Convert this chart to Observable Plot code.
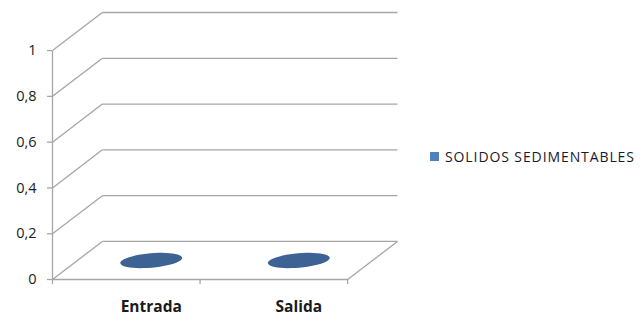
<!DOCTYPE html>
<html>
<head>
<meta charset="utf-8">
<script src="https://cdn.jsdelivr.net/npm/d3@7"></script>
<script src="https://cdn.jsdelivr.net/npm/@observablehq/plot@0.6"></script>
<style>
  html, body { margin: 0; padding: 0; background: #fff; }
  #wrap { position: relative; width: 642px; height: 322px; font-family: "Open Sans", Lato, sans-serif; }
  #legend { position: absolute; left: 430px; top: 147px; display: flex; align-items: center; font-size: 14px; letter-spacing: 0.9px; color: #1a1a2a; white-space: nowrap; }
  #legend .sw { width: 9px; height: 9px; background: #4F81BD; margin-right: 6px; }
</style>
</head>
<body>
<div id="wrap"><div id="legend"></div></div>
<script>
// ---- data ----
const categories = ["Entrada", "Salida"];
const seriesName = "SOLIDOS SEDIMENTABLES";
const values = [0, 0];
const yTicks = [0, 0.2, 0.4, 0.6, 0.8, 1];

// ---- layout (3D depth expressed in scale units) ----
const n = categories.length;
const dX = 50 / 148;   // depth offset, in category units
const dY = 38 / 228.5; // depth offset, in value units
const rows = categories.map((c, i) => ({category: c, value: values[i], i}));

const gridColor = "#A6A6A6";
const barColor = "#3C6394";

const ellipse = {
  draw(context) {
    const rx = 31, ry = 7.2, a = -5 * Math.PI / 180;
    const N = 48;
    for (let k = 0; k <= N; k++) {
      const t = (k / N) * 2 * Math.PI;
      const ex = rx * Math.cos(t), ey = ry * Math.sin(t);
      const px = ex * Math.cos(a) - ey * Math.sin(a);
      const py = ex * Math.sin(a) + ey * Math.cos(a);
      if (k === 0) context.moveTo(px, py); else context.lineTo(px, py);
    }
    context.closePath();
  }
};

const chart = Plot.plot({
  width: 642,
  height: 322,
  marginLeft: 52,
  marginRight: 245,
  marginTop: 12,
  marginBottom: 43,
  style: {fontFamily: "'Open Sans', Lato, sans-serif", background: "transparent"},
  x: {type: "linear", domain: [0, n + dX], axis: null},
  y: {domain: [0, 1 + dY], axis: null},
  marks: [
    // back wall gridlines
    Plot.link(yTicks, {x1: () => dX, y1: d => d + dY, x2: () => n + dX, y2: d => d + dY, stroke: gridColor, strokeWidth: 1.3}),
    // side wall diagonals
    Plot.link(yTicks, {x1: () => 0, y1: d => d, x2: () => dX, y2: d => d + dY, stroke: gridColor, strokeWidth: 1.3}),
    // floor front edge and right edge
    Plot.link([0], {x1: () => 0, y1: () => 0, x2: () => n, y2: () => 0, stroke: gridColor, strokeWidth: 1.3}),
    Plot.link([0], {x1: () => n, y1: () => 0, x2: () => n + dX, y2: () => dY, stroke: gridColor, strokeWidth: 1.3}),
    // front value axis line
    Plot.link([0], {x1: () => 0, y1: () => 0, x2: () => 0, y2: () => 1, stroke: gridColor, strokeWidth: 1.3}),
    // value axis
    Plot.axisY(yTicks, {
      anchor: "left", tickSize: 5, tickPadding: 11, stroke: gridColor, strokeWidth: 1.3,
      tickFormat: d => String(d).replace(".", ","), fontSize: 14.5, fill: "#222"
    }),
    // category axis ticks
    Plot.axisX(d3.range(n + 1), {anchor: "bottom", tickSize: 5, stroke: gridColor, strokeWidth: 1.3, tickFormat: () => ""}),
    // cylinder tops (values ~ 0)
    Plot.dot(rows, {x: d => d.i + 0.5 + dX / 2, y: d => d.value + dY / 2, symbol: ellipse, fill: barColor, stroke: "none"}),
    // category labels
    Plot.text(rows, {x: d => d.i + 0.5 + dX / 2, y: () => 0, dy: 28, text: "category", fontSize: 15.5, fontWeight: "bold", fill: "#1a1a1a"})
  ]
});

const wrap = document.getElementById("wrap");
wrap.insertBefore(chart, wrap.firstChild);
document.getElementById("legend").innerHTML = `<div class="sw"></div><span>${seriesName}</span>`;
</script>
</body>
</html>
